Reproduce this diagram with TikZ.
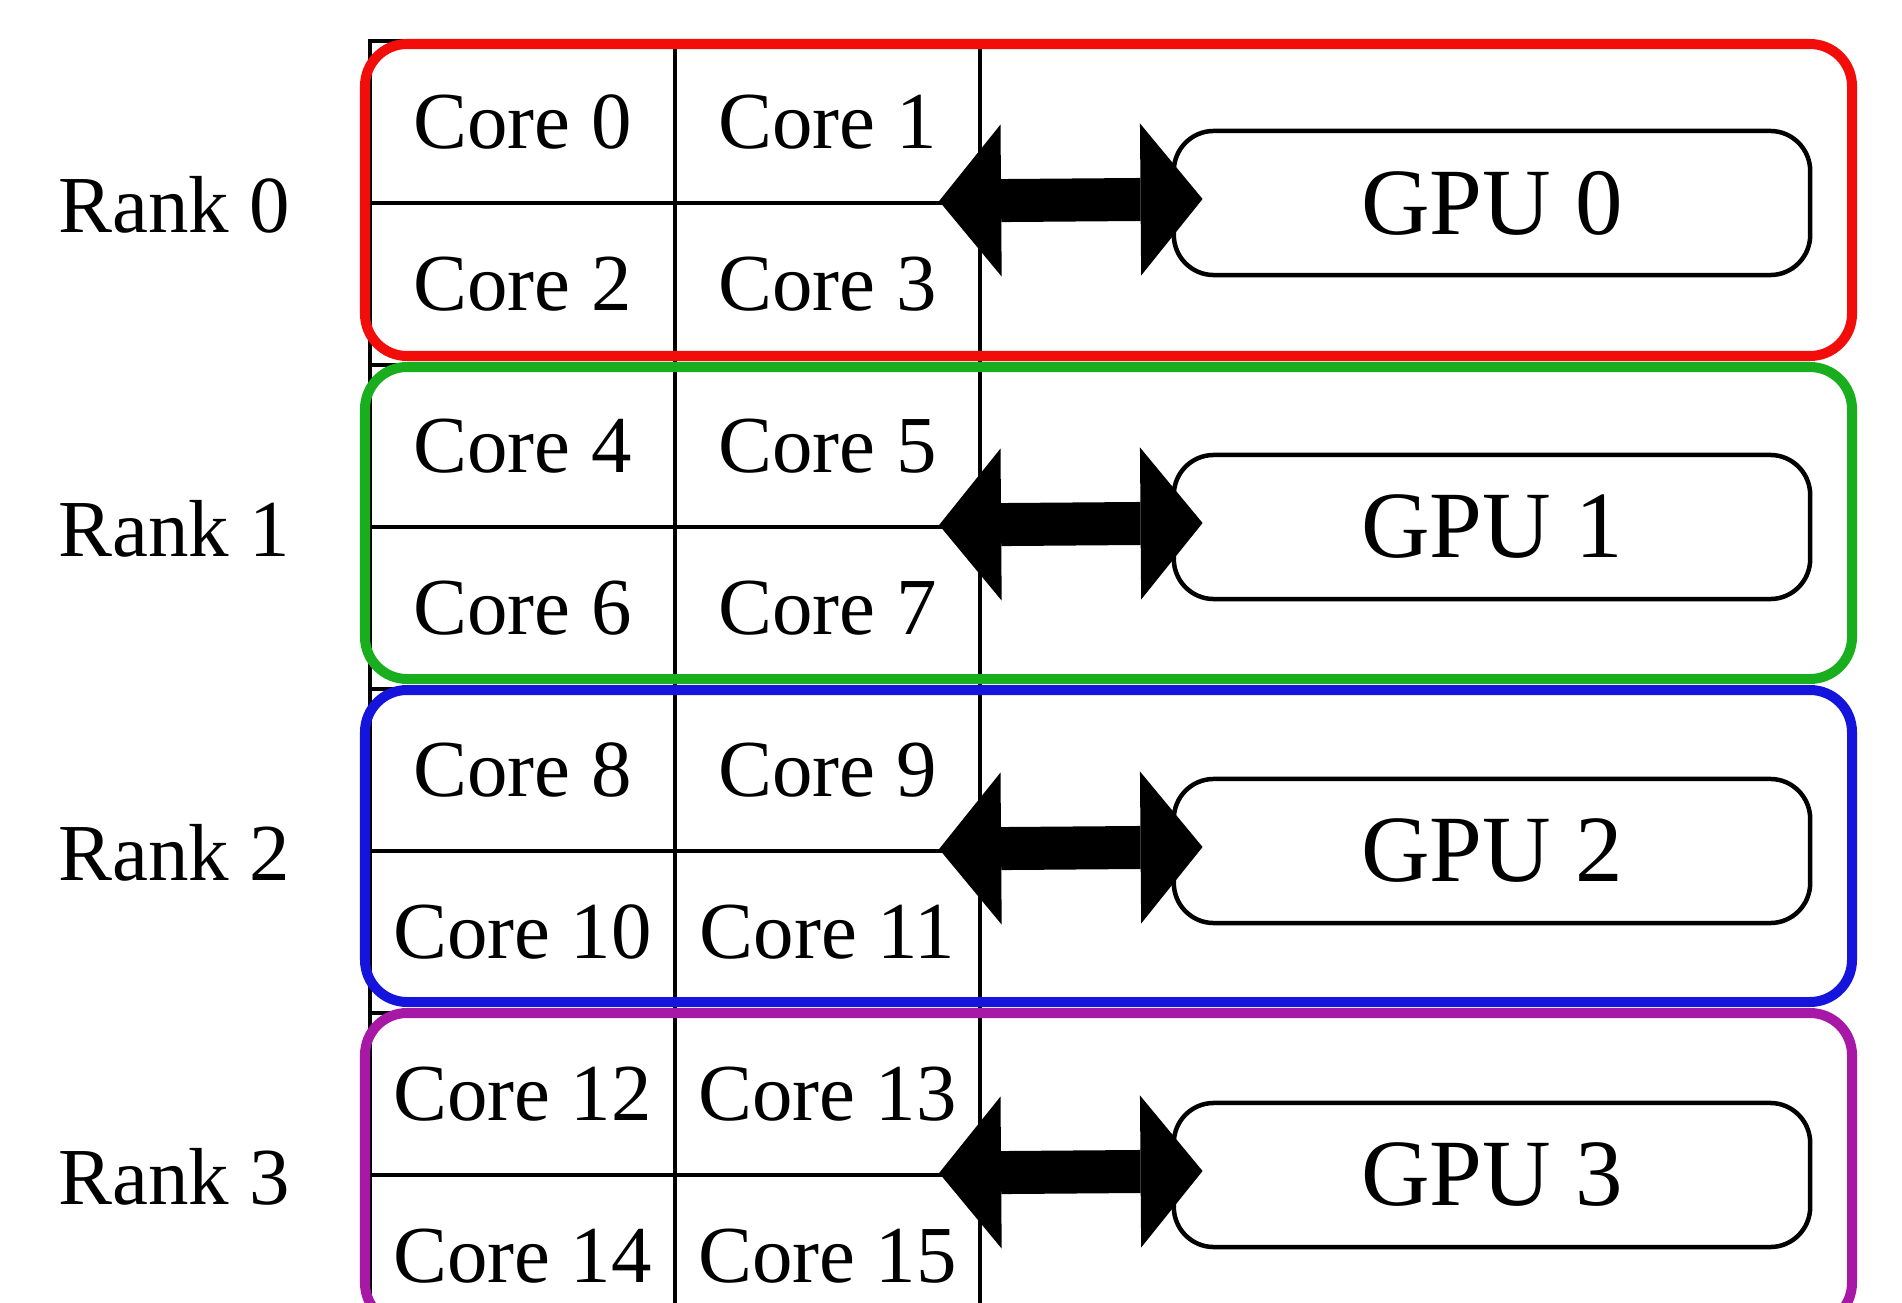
\documentclass[tikz,border=0pt]{standalone}
\usepackage{fontspec}
\setmainfont{Liberation Serif}
\usetikzlibrary{arrows.meta}
\definecolor{rankred}{RGB}{242,12,10}
\definecolor{rankgreen}{RGB}{24,174,30}
\definecolor{rankblue}{RGB}{20,20,220}
\definecolor{rankpurple}{RGB}{168,24,166}

\begin{document}
\begin{tikzpicture}[x=0.01cm,y=-0.01cm,
	core/.style={draw,line width=0.04cm,minimum width=3.05cm,minimum height=1.62cm,
		inner sep=0pt,font=\fontsize{23}{28}\selectfont},
	rank/.style={font=\fontsize{23}{28}\selectfont},
	gpu/.style={draw,line width=0.045cm,rounded corners=0.4cm,minimum width=6.36cm,
		minimum height=1.44cm,font=\fontsize{27}{32}\selectfont},
	group/.style={line width=0.1cm,rounded corners=0.42cm},
	link/.style={line width=0.43cm,
		{Triangle[length=0.62cm,width=1.52cm,line width=0pt]}-{Triangle[length=0.62cm,width=1.52cm,line width=0pt]}}
]
	\useasboundingbox (0,0) rectangle (1902,1303);
	\clip (0,0) rectangle (1902,1303);
	%% cores, gpus and links of each rank
	\foreach \r in {0,1,2,3}{
		\pgfmathtruncatemacro\ca{4*\r}
		\pgfmathtruncatemacro\cb{4*\r+1}
		\pgfmathtruncatemacro\cc{4*\r+2}
		\pgfmathtruncatemacro\cd{4*\r+3}
		\pgfmathsetmacro\ytop{122+324*\r}
		\pgfmathsetmacro\ybot{284+324*\r}
		\pgfmathsetmacro\ymid{203+324*\r}
		\node[core] (c\ca) at (522.5,\ytop) {Core \ca};
		\node[core] (c\cb) at (827.5,\ytop) {Core \cb};
		\node[core] (c\cc) at (522.5,\ybot) {Core \cc};
		\node[core] (c\cd) at (827.5,\ybot) {Core \cd};
		\node[gpu] (gpu\r) at (1492,\ymid) {GPU \r};
		\node[rank] (rank\r) at (174,\ymid+2) {Rank \r};
		% link cpu <-> gpu
		\draw[link] ([xshift=-0.43cm,yshift=0.04cm]c\cb.south east) -- ([xshift=0.31cm,yshift=0.04cm]gpu\r.west);
	}
	%% rank frames
	\foreach \r/\col in {0/rankred,1/rankgreen,2/rankblue,3/rankpurple}{
		\draw[group,\col] (365,{44+323*\r}) rectangle (1852,{356+323*\r});
	}
\end{tikzpicture}
\end{document}
